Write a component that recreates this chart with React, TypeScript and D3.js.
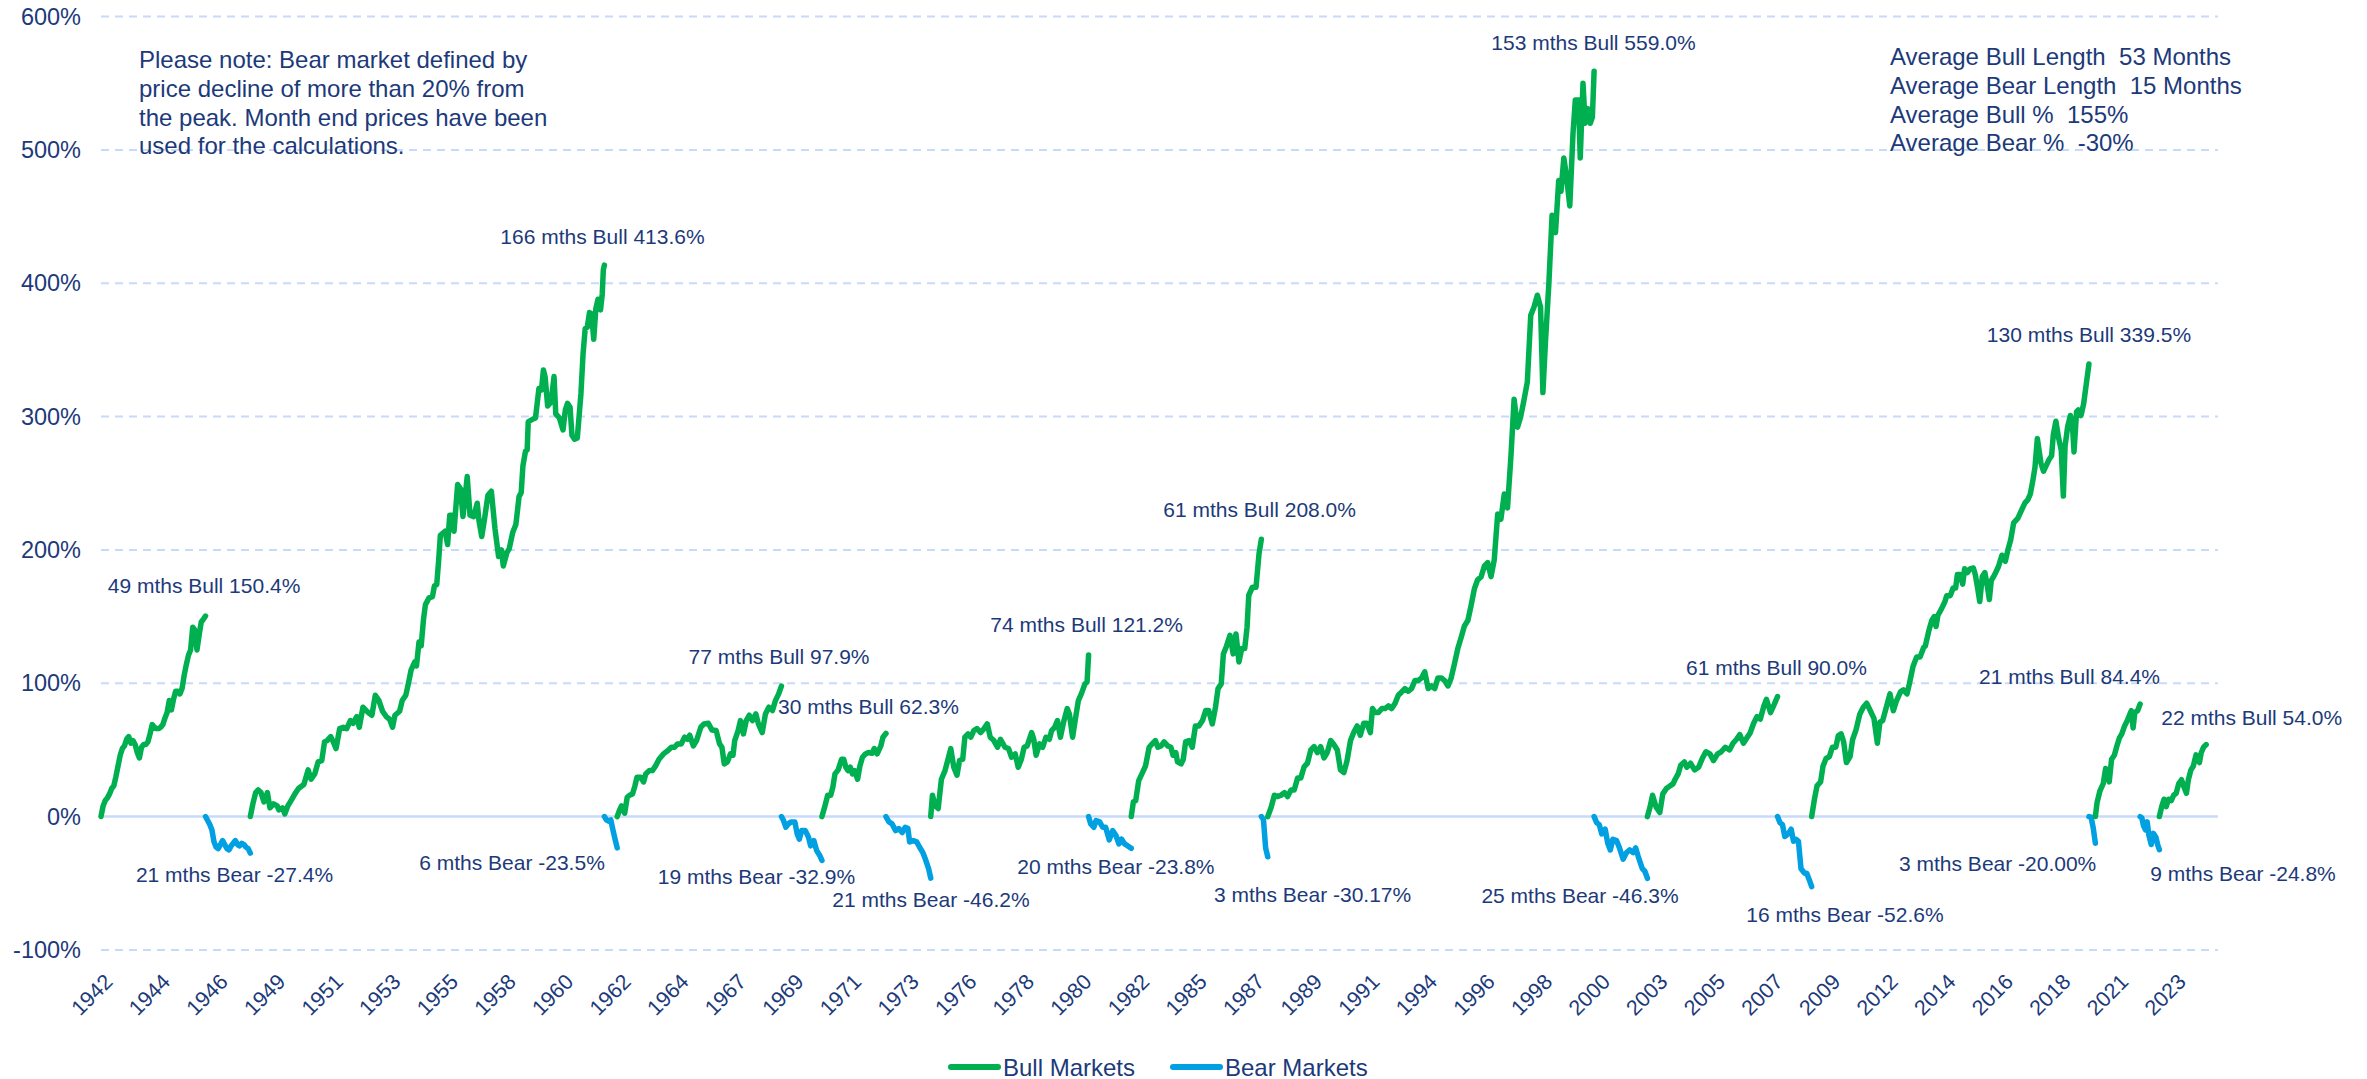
import React from 'react';
import * as d3 from 'd3';

const W = 2367;
const H = 1079;

// ---------- data: [month offset within the phase, cumulative % change] ----------
const bull1942: [number, number][] = [[0,0],[1,8],[2,12],[3,14],[4,17],[5,21],[6,23],[7,30],[8,38],[9,46],[10,51],[11,53],[12,58],[13,60],[14,55],[15,57],[16,54],[17,48],[18,44],[19,52],[20,54],[21,54],[22,56],[23,62],[24,69],[25,67],[26,66],[27,66],[28,67],[29,69],[30,74],[31,78],[32,87],[33,80],[34,88],[35,94],[36,94],[37,92],[38,96],[39,106],[40,114],[41,121],[42,125],[43,142],[44,140],[45,125],[46,136],[47,146],[48,148],[49,150.4]];
const bear1946: [number, number][] = [[0,0],[1,-3],[2,-6],[3,-10],[4,-19],[5,-23],[6,-24],[7,-21],[8,-18],[9,-21],[10,-24],[11,-25],[12,-22],[13,-20],[14,-18],[15,-21],[16,-22],[17,-20],[18,-21],[19,-23],[20,-24],[21,-27.4]];
const bull1948: [number, number][] = [[0,0],[1.2,9.5],[2.5,18],[3.7,20],[5,18],[6.4,11],[8,18],[9.2,6.5],[10.9,9.5],[12.6,8],[13.4,5],[15.1,6.5],[16.2,2],[17.6,8],[19.3,12.5],[20.9,17],[22.6,21],[25.1,24],[27.1,35],[28.5,28],[30.2,32],[31.8,41],[33.5,42],[34.8,56],[36,57],[37.7,60],[38.9,56],[40.2,51],[41.9,66],[43.6,67],[45.2,66],[46.9,72],[48.2,70],[49.9,75],[51.1,67],[52.8,82],[55.3,78],[57,76],[58.6,91],[60.3,87],[62,79],[63.7,75],[65.3,73],[66.7,67],[67.8,76],[70,79],[71.2,87],[72.9,91],[74,99],[75.4,110],[77.1,116],[77.9,113],[79.1,131],[80.1,128],[81.2,148],[82.1,159],[83.8,164],[85.4,165],[86.3,173],[87.4,174],[88.3,192],[89.1,211],[91.3,214],[92.5,204],[93.5,226],[94.6,226],[95.5,214],[97.2,249],[98.5,246],[99.7,225],[100.5,237],[101.7,255],[103,226],[104.7,225],[106.4,235],[107.2,222],[108.5,210],[109.7,222],[111.4,241],[113,244],[114.7,216],[116.4,195],[117.8,200],[118.6,188],[120.3,198],[121.4,201],[123,213],[124.5,219],[126,240],[127,243],[127.8,263],[129,274],[129.8,275],[130.3,296],[132.3,298],[133.7,299],[134.8,314],[135.3,321],[136.5,320],[137.4,335],[138.2,330],[139.4,308],[141,311],[142.4,330],[143.2,302],[144.9,299],[146.6,290],[147.7,305],[148.7,310],[149.9,307],[150.8,286],[152,283],[153.3,284],[155,317],[156,347],[157,366],[158,367],[159,378],[160,377],[161,358],[162,381],[163,388],[164.2,380],[165,392],[165.5,410],[166,413.6]];
const bear1961: [number, number][] = [[0,0],[1,-2.5],[2,-3.5],[3,-2.5],[4,-10],[5,-17],[6,-23.5]];
const bull1962: [number, number][] = [[0,0],[1,4.5],[2,8],[3.5,2.5],[4.7,14.5],[5.8,16],[7.2,17],[8.3,23],[9.3,29.5],[11,29.5],[12.4,26],[13.4,32],[15.1,34.5],[16.5,34.5],[18,38],[19.6,43],[21.7,47],[23.8,49.5],[25.4,52],[26.9,52],[28.3,54.5],[30,54.5],[31.6,59.5],[33,58],[34,61],[35.7,53],[37.2,57],[39.2,67],[40.7,69.5],[42.7,70],[44.4,65],[46.4,64.5],[48,54.5],[49.1,52],[50.2,39.5],[51.7,41],[53.1,47],[54.3,46],[55.1,57],[56.7,64.5],[57.8,72],[59.2,62],[60.5,72],[61.9,76],[63.4,72],[65,77],[66.2,69.5],[68,63],[69.5,77],[71.1,82],[72.8,79.5],[74.2,87],[75.7,92],[77,97.9]];
const bear1968: [number, number][] = [[0,0],[1,-3],[2.1,-8],[3.2,-5.5],[4.6,-4],[6.3,-4],[7.4,-13],[8.4,-17],[9.5,-10.5],[11.2,-10.5],[12.7,-15.5],[13.7,-22],[15.2,-18],[16.5,-25.5],[17.9,-29],[19,-32.9]];
const bull1970: [number, number][] = [[0,0],[1.4,8],[2.7,16],[4.1,16],[5.1,22],[6.1,32],[7.6,35],[9.2,43],[10.2,43],[11.2,37],[12.2,34.5],[13.3,37],[14.3,32],[15.3,34.5],[16.7,28],[17.8,38],[19,44.5],[20.4,47],[21.8,48],[23.5,47.5],[24.5,51],[25.9,47],[27.6,53],[28.6,59.5],[30,62.3]];
const bear1973: [number, number][] = [[0,0],[1.4,-4],[2.9,-5.5],[4.5,-10.5],[6,-9],[7.6,-12],[9,-8],[10.3,-9],[11.1,-19],[12.8,-18],[14.4,-19],[15.8,-23],[17.3,-27],[18.5,-32],[20,-39],[21,-46.2]];
const bull1974: [number, number][] = [[0,0],[0.8,16],[2.1,8],[3.5,6],[5,28],[6.7,34.5],[8.1,43],[9.4,51],[10.8,37],[12.3,31],[13.5,42],[15,43],[16,59.5],[17.5,62],[18.8,59.5],[20.2,64.5],[21.7,66],[23.3,63],[25,66],[26.5,69.5],[27.9,59.5],[29.6,57],[31.3,52],[32.7,58],[34.8,52],[36.5,51],[37.9,44.5],[39.6,47],[41,37],[42.5,43],[43.8,52],[45.2,53],[47.3,63],[48.3,58],[49.4,46],[51,54.5],[52.5,52],[54,59.5],[55.6,58],[56.7,64.5],[58.1,67],[59.4,72],[60.8,59.5],[62.3,71],[64,81],[65,77],[66.5,59.5],[67.7,72],[69.2,87],[70.6,92],[72.3,99.5],[73.3,101],[74,121.2]];
const bear1980: [number, number][] = [[0,0],[1,-5.5],[2.5,-8],[3.5,-3],[5.2,-4],[6.6,-8],[8,-8],[9.7,-17.5],[11.3,-10.5],[12.8,-14],[14.2,-20.5],[15.5,-17],[16.9,-20.5],[18.4,-22],[20,-23.8]];
const bull1982: [number, number][] = [[0,0],[1,11],[2.1,12],[3.5,27],[5,32],[6.7,38],[8.4,52],[9.8,54.5],[11.3,57],[12.5,52],[14,53],[15.4,56],[17.1,53],[18.6,52],[19.6,46],[20.9,48],[21.7,41],[23.4,39.5],[24.4,43],[25.5,56],[27.1,57],[28.6,52],[30.1,68],[31.7,68],[33.4,72],[34.9,79.5],[36.3,79.5],[38,69.5],[39.5,82],[40.7,96],[42.2,99.5],[43.2,122],[44.7,128],[46.3,136],[47.8,122],[49.1,137],[50.5,116],[51.8,126],[53.2,126],[54.3,142],[55.1,166],[56.8,172],[58.5,172],[59.9,197],[61,208]];
const bear1987: [number, number][] = [[0,0],[1,-2.4],[2,-23.5],[3,-30.17]];
const bull1987: [number, number][] = [[0,0],[1.6,7],[3.1,16],[4.7,15],[6.2,16],[7.8,18],[9.3,15],[10.9,20],[12.4,20],[14,29],[15.5,29],[17.1,37.5],[18.6,40],[20.2,50],[21.7,52.5],[23.3,48],[24.8,52.5],[26.4,44],[27.9,48],[29.5,57],[31,54],[32.6,50],[34.1,35],[35.7,33],[37.2,42],[38.8,57],[40.3,63],[41.9,68],[43.4,61],[45,70],[46.5,70],[48.1,63],[49.1,81],[50.4,78],[51.9,78],[53.5,81],[55,81],[56.6,83],[58.1,81],[59.7,85],[61.2,91],[62.8,93.5],[64.3,96],[65.9,94],[67.4,96],[69,102],[70.5,102],[72.1,104],[73.6,108.6],[75.2,96],[76.7,98],[78.3,96],[79.8,104],[81.4,104],[82.9,102],[84.5,98],[86,104],[87.6,115],[89.1,126],[90.7,134.5],[92.2,143],[93.8,147],[95.3,158],[96.9,171],[98.4,177.6],[100,179.7],[101.6,188],[103.1,190.5],[104.7,180],[106.2,192.7],[107.8,227],[109.3,223],[110.9,242],[112.4,231.5],[114,270],[115.5,313],[117.1,292],[118.6,300],[120.2,313],[121.7,326],[123.3,376],[124.8,382],[126.4,391],[127.9,382],[129,318],[130.2,356],[131.8,400],[133.3,451],[134.9,438],[136.4,477],[137.5,469],[138.8,494],[140,481],[141.6,458],[143.1,512],[144.2,537.5],[145.7,537.5],[146.5,494],[147.8,550],[148.8,520],[150.1,531],[151.2,520],[152.2,524.6],[153,559]];
const bear2000: [number, number][] = [[0,0],[1.2,-4.5],[2.4,-6],[3.6,-13],[5.2,-9.5],[6.4,-20],[7.6,-25],[8.8,-17],[10.5,-18],[11.9,-23.5],[13.6,-32],[15.2,-27],[16.7,-25],[18.3,-27],[19.5,-23.5],[20.7,-30],[22.6,-39],[23.8,-41],[25,-46.3]];
const bull2002: [number, number][] = [[0,0],[1.2,7],[2.4,16],[4.1,7],[5.8,3],[7.2,17],[8.9,21],[10.6,23],[12,24.5],[13,28],[14.4,32],[15.6,38.5],[17.3,41],[18.5,37],[20.2,40],[22.1,35],[24,37],[25.7,43.5],[27.4,48.6],[29.3,47],[31,42],[32.9,47],[34.6,48.6],[36.5,52],[38.5,50],[40.1,55],[41.8,58],[43.3,61.5],[45,55],[46.6,59],[48.1,62.5],[49.8,70],[51.4,75],[52.9,73],[54.6,83],[55.8,88],[57.7,78],[59.4,84],[61,90]];
const bear2007: [number, number][] = [[0,0],[1.1,-4.5],[2.3,-6],[3.4,-15],[5,-13],[6.4,-9.5],[7.5,-18.5],[8.7,-17],[9.8,-18.5],[11,-39],[12.6,-42.5],[13.7,-42.5],[14.9,-47.5],[16,-52.6]];
const bull2009: [number, number][] = [[0,0],[1.3,13],[2.5,23],[4.2,26],[5.3,37.7],[6.7,43.4],[8.3,45],[9.7,52],[11.3,52],[12.5,60.7],[13.8,62],[15,56],[16.3,40.5],[18,45],[19.2,57.8],[20.8,65],[22.5,76.5],[24.2,82],[25.8,85],[27.5,79.4],[29.2,73.6],[30.8,55],[32,70.8],[33.3,72],[35,82],[36.7,92],[38.3,79.4],[39.7,86.6],[41.7,93.8],[43,95],[44.7,92],[45.8,99.5],[47.5,112.5],[49.2,119.6],[50.8,119.6],[52.5,126.8],[53.3,128],[55,139.8],[56.3,147],[57.5,150],[58.3,142.6],[59.2,151],[60.8,155.6],[62.5,161.3],[63.3,165.7],[65,165.7],[66.3,171.4],[67.5,171.4],[68.3,181.5],[69.7,181.5],[70.8,174.3],[71.7,185.8],[73,183],[74.2,185.8],[75.8,186.4],[76.7,181.5],[77.8,171.4],[78.8,161.3],[80,180],[81.2,183],[82.5,171.4],[83.3,162.8],[84.2,177],[85.8,181.5],[87.5,187.2],[89.2,196],[90.8,191.5],[92,200],[93.3,207.4],[94.7,220.3],[96.7,223.8],[98.3,229.5],[100,235.3],[101.3,237.6],[102.5,241.9],[103.7,252],[104.7,262],[105.8,283.6],[107.5,265],[108.7,259],[110,263.4],[111.3,267.8],[112.5,270.6],[113.3,286.5],[114.5,296.5],[115.8,283.6],[117,275],[118,240.4],[118.8,277.8],[120,292.2],[121.3,300.8],[122.2,295],[123,273.5],[124.2,303.7],[125,305],[126.3,300.8],[127.5,309.5],[128.7,323.8],[130,339.5]];
const bear2020: [number, number][] = [[0,0],[1,-0.5],[2,-8.5],[3,-20]];
const bull2020: [number, number][] = [[0,0],[0.8,10.4],[2.1,19],[3.7,24.7],[4.8,36],[5.6,33],[6.5,26],[7.6,43],[8.9,46],[10.2,53.5],[11.3,59],[12.4,62],[13.7,68],[15,72],[16.1,76.5],[16.9,79.4],[17.7,66.4],[18.5,78],[19.8,79.4],[21,84.4]];
const bear2022: [number, number][] = [[0,0],[0.8,-1],[1.6,-7],[2.5,-10],[3.3,-4],[4.1,-14],[5.2,-21],[6.2,-12.6],[7.4,-15.5],[8.2,-21],[9,-24.8]];
const bull2022: [number, number][] = [[0,0],[1.1,7.5],[2.2,13],[3.2,7.5],[4.3,13],[5.6,12],[6.7,16],[7.9,17.5],[9.1,24.7],[10.4,27.6],[11.6,22],[12.7,17.5],[13.6,27.6],[14.8,35],[15.9,37.7],[17.2,46.3],[18,45],[18.8,40.5],[19.6,47.7],[20.7,52],[22,54]];

// phases in order (kind, length in months, series)
const phaseKinds = ['bull','bear','bull','bear','bull','bear','bull','bear','bull','bear','bull','bear','bull','bear','bull','bear','bull','bear','bull','bear','bull'];
const phaseMonths = [49,21,166,6,77,19,30,21,74,20,61,3,153,25,61,16,130,3,21,9,22];
const phaseSeries = [bull1942,bear1946,bull1948,bear1961,bull1962,bear1968,bull1970,bear1973,bull1974,bear1980,bull1982,bear1987,bull1987,bear2000,bull2002,bear2007,bull2009,bear2020,bull2020,bear2022,bull2022];
const phaseLabels = ['49 mths Bull 150.4%','21 mths Bear -27.4%','166 mths Bull 413.6%','6 mths Bear -23.5%','77 mths Bull 97.9%','19 mths Bear -32.9%','30 mths Bull 62.3%','21 mths Bear -46.2%','74 mths Bull 121.2%','20 mths Bear -23.8%','61 mths Bull 208.0%','3 mths Bear -30.17%','153 mths Bull 559.0%','25 mths Bear -46.3%','61 mths Bull 90.0%','16 mths Bear -52.6%','130 mths Bull 339.5%','3 mths Bear -20.00%','21 mths Bull 84.4%','9 mths Bear -24.8%','22 mths Bull 54.0%'];
// label centres in data space: [month index from Apr 1942, % value]
const labelAnchors: [number, number][] = [[48.3,173],[62.6,-43.8],[235.1,435.4],[192.7,-34.8],[317.9,120.4],[307.3,-44.6],[359.8,82.9],[389.1,-62.5],[462.1,143.7],[475.8,-37.8],[543.2,230.2],[568,-58.7],[699.7,580.4],[693.4,-59.4],[785.5,111.9],[817.6,-73.3],[932,361.5],[889.2,-35.1],[922.9,104.9],[1004.2,-43],[1008.3,74.2]];

const yTicks = [-100, 0, 100, 200, 300, 400, 500, 600];
const xTickYears = ['1942','1944','1946','1949','1951','1953','1955','1958','1960','1962','1964','1967','1969','1971','1973','1976','1978','1980','1982','1985','1987','1989','1991','1994','1996','1998','2000','2003','2005','2007','2009','2012','2014','2016','2018','2021','2023'];
const xTickEvery = 27; // months between labels

const noteLines = ['Please note: Bear market defined by', 'price decline of more than 20% from', 'the peak. Month end prices have been', 'used for the calculations.'];
const statLines = ['Average Bull Length  53 Months', 'Average Bear Length  15 Months', 'Average Bull %  155%', 'Average Bear %  -30%'];
const legendItems = [{ name: 'Bull Markets', kind: 'bull' }, { name: 'Bear Markets', kind: 'bear' }];

const COLORS: Record<string, string> = { bull: '#00B050', bear: '#00A0E2' };
const TEXT = '#1C3A7A';
const GRID = '#C7DAFA';
const FONT = '"Liberation Sans", Arial, Helvetica, sans-serif';

export default function App() {
  const x = d3.scaleLinear().domain([0, 992.5]).range([101, 2218]);
  const y = d3.scaleLinear().domain([-100, 600]).range([949.9, 16.6]);

  const starts = phaseMonths.reduce<number[]>((acc, m, i) => {
    acc.push(i === 0 ? 0 : acc[i - 1] + phaseMonths[i - 1]);
    return acc;
  }, []);

  const paths = phaseSeries.map((series, i) => {
    const s = starts[i];
    const line = d3.line<[number, number]>().x(d => x(s + d[0])).y(d => y(d[1]));
    return { d: line(series) || '', kind: phaseKinds[i] };
  });

  return (
    <svg width={W} height={H} style={{ position: 'absolute', left: 0, top: 0, display: 'block', background: '#fff' }} fontFamily={FONT}>
      <rect x={0} y={0} width={W} height={H} fill="#ffffff" />
      {yTicks.map(t => (
        <line key={'g' + t} x1={x(0)} x2={x(992.5)} y1={y(t)} y2={y(t)} stroke={GRID} strokeWidth={t === 0 ? 2.5 : 2}
          strokeDasharray={t === 0 ? undefined : '8 6'} />
      ))}
      {yTicks.map(t => (
        <text key={'yl' + t} x={81} y={y(t)} textAnchor="end" dominantBaseline="central" fontSize={23.5} fill={TEXT}>{t + '%'}</text>
      ))}
      {xTickYears.map((yr, i) => {
        const px = x(i * xTickEvery) + 13;
        const py = 983;
        return (
          <text key={'xl' + i} x={px} y={py} textAnchor="end" fontSize={21.5} fill={TEXT} transform={`rotate(-45 ${px} ${py})`}>{yr}</text>
        );
      })}
      {paths.map((p, i) => (
        <path key={'p' + i} d={p.d} fill="none" stroke={COLORS[p.kind]} strokeWidth={5.5} strokeLinejoin="round" strokeLinecap="round" />
      ))}
      {phaseLabels.map((lbl, i) => (
        <text key={'lb' + i} x={x(labelAnchors[i][0])} y={y(labelAnchors[i][1])} textAnchor="middle" dominantBaseline="central" fontSize={21} fill={TEXT}>{lbl}</text>
      ))}
      {noteLines.map((l, i) => (
        <text key={'n' + i} x={139} y={68 + i * 28.8} fontSize={24} fill={TEXT}>{l}</text>
      ))}
      {statLines.map((l, i) => (
        <text key={'s' + i} x={1890} y={65 + i * 28.8} fontSize={24} fill={TEXT} style={{ whiteSpace: 'pre' }}>{l}</text>
      ))}
      {legendItems.map((it, i) => {
        const lx = 948 + i * 222;
        return (
          <g key={'lg' + i}>
            <line x1={lx + 3} x2={lx + 50} y1={1067} y2={1067} stroke={COLORS[it.kind]} strokeWidth={6} strokeLinecap="round" />
            <text x={lx + 55} y={1067} dominantBaseline="central" fontSize={24} fill={TEXT}>{it.name}</text>
          </g>
        );
      })}
    </svg>
  );
}
